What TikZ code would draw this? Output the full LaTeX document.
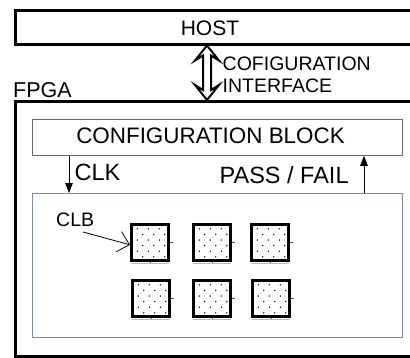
\documentclass[tikz,border=0pt]{standalone}
\usepackage{fontspec}
\setmainfont{Liberation Sans}
\usetikzlibrary{arrows.meta,calc}

\definecolor{coreline}{RGB}{120,140,172}
\definecolor{blockline}{RGB}{105,105,105}

\tikzset{
  heavybox/.style={draw=black, line width=2.5pt, inner sep=0, anchor=north west},
  blockbox/.style={draw=blockline, line width=0.8pt, inner sep=0, anchor=north west},
  corebox/.style={draw=coreline, line width=0.9pt, inner sep=0, anchor=north west},
  lbl/.style={inner sep=0, font=\fontsize{21}{23}\selectfont},
  biglbl/.style={inner sep=0, font=\fontsize{23.5}{25}\selectfont},
  smalllbl/.style={inner sep=0, font=\fontsize{19.5}{21}\selectfont},
  sig/.style={line width=1pt, -{Triangle[length=10pt,width=7.5pt]}},
  pointer/.style={line width=0.8pt, -{Straight Barb[length=11pt,width=21pt]}},
  linkarrow/.style={draw=black, fill=white, line width=2pt, line join=miter},
  clbcell/.style={draw=black, line width=2.6pt, fill=white, inner sep=0,
    minimum width=37, minimum height=36, anchor=north west,
    path picture={
      \foreach \r in {0,...,5}{
        \pgfmathsetmacro{\off}{mod(\r,2)==0 ? 6 : 11.5}
        \foreach \c in {0,1,2}{
          \fill[black] ($(path picture bounding box.north west)+(\off+11*\c,4.5+5.6*\r)$) circle (0.75);
        }
      }
    }},
}

\begin{document}
\begin{tikzpicture}[x=1pt,y=-1pt]
  \useasboundingbox (0,0) rectangle (410,357);
  \clip (0,0) rectangle (410,357);

  % host system and the device, both running off the right edge
  \node[heavybox, minimum width=404, minimum height=34] (host) at (14,9) {};
  \node[heavybox, minimum width=404, minimum height=255] (fpga) at (14,100) {};

  % configuration block and the programmable core
  \node[blockbox, minimum width=370, minimum height=36] (cfg) at (32,119) {};
  \node[corebox, minimum width=370, minimum height=144] (core) at (32,193) {};

  % labels
  \node[lbl, anchor=base] (hostlbl) at (210,35) {HOST};
  \node[lbl, font=\fontsize{21.5}{23}\selectfont, anchor=base west] (fpgalbl) at (13,97.5) {FPGA};
  \node[smalllbl, anchor=base west] (if1) at (222.5,70) {COFIGURATION};
  \node[smalllbl, anchor=base west] (if2) at (222.5,92.5) {INTERFACE};
  \node[lbl, font=\fontsize{22.4}{24}\selectfont, anchor=base] (cfglbl) at (210.5,143.3) {CONFIGURATION BLOCK};
  \node[biglbl, anchor=base west] (clklbl) at (74.5,180) {CLK};
  \node[biglbl, anchor=base west] (pflbl) at (219.5,183.3) {PASS / FAIL};
  \node[smalllbl, anchor=base west] (clblbl) at (56,226.7) {CLB};

  % configuration interface between host and device: hollow double arrow
  \coordinate (ifx) at (207,0);
  \coordinate (linktop) at (host.south -| ifx);
  \coordinate (linkbot) at (fpga.north -| ifx);
  \draw[linkarrow] (linktop)
     -- ($(linktop)+(12,15)$) -- ($(linktop)+(4,10)$)
     -- ($(linkbot)+(4,-10)$) -- ($(linkbot)+(12,-15)$)
     -- (linkbot)
     -- ($(linkbot)+(-12,-15)$) -- ($(linkbot)+(-4,-10)$)
     -- ($(linktop)+(-4,10)$) -- ($(linktop)+(-12,15)$)
     -- cycle;

  % clock and pass/fail signals
  \coordinate (clkx) at (69,0);
  \coordinate (pfx) at (364,0);
  \draw[sig] (cfg.south -| clkx) -- (core.north -| clkx);
  \draw[sig] (core.north -| pfx) -- (cfg.south -| pfx);

  % array of logic blocks
  \foreach \n/\x/\y in {1/130/223, 2/192/223, 3/250/223,
                        4/131/279, 5/192/279, 6/251/279}{
    \node[clbcell] (clb\n) at (\x,\y) {};
    \fill[black] ($(clb\n.west)+(-0.5,-1.5)$) rectangle ++(2.5,3);
    \draw[black!70, line width=0.6pt] (clb\n.east) -- ++(3,0);
    \draw[black!70, line width=0.6pt] (clb\n.south) -- ++(0,2);
    \draw[coreline!60, line width=0.7pt] ($(clb\n.south west)+(1,2.2)$) -- ($(clb\n.south east)+(-1,2.2)$);
  }

  % pointer from the CLB label
  \coordinate (clbtail) at (83,232);
  \draw[pointer] (clbtail) -- ($(clb1.west)+(0,2.5)$);
\end{tikzpicture}
\end{document}
